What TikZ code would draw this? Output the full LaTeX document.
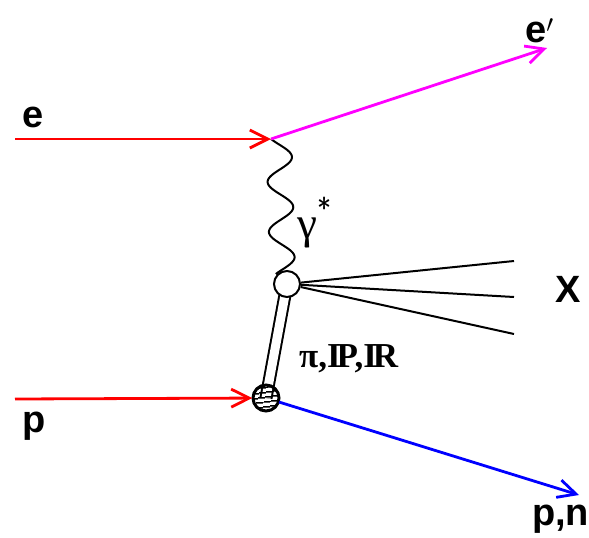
\documentclass[tikz,border=0pt]{standalone}
\usepackage{fontspec}
\setmainfont{Liberation Sans}
\newfontfamily\serifbf{Liberation Serif}[BoldFont={Liberation Serif Bold}]
\usetikzlibrary{arrows.meta,patterns.meta,backgrounds}
\definecolor{emag}{RGB}{255,0,255}
\definecolor{ered}{RGB}{255,0,0}
\definecolor{pblue}{RGB}{0,0,255}
\tikzset{
  lep/.style={line width=2.8pt,-{Straight Barb[length=18pt,width=18pt,line width=2.8pt]}},
  jet/.style={line width=2pt},
  photon/.style={line width=2pt,line join=round},
  lbl/.style={anchor=base west,inner sep=0pt,font=\fontsize{38}{40}\selectfont\bfseries},
}
\begin{document}
\begin{tikzpicture}[x=1pt,y=-1pt]
\useasboundingbox (0,0) rectangle (589,538);
\coordinate (ein) at (15,139);
\coordinate (ev) at (271,139);
\coordinate (eout) at (547,48);
\coordinate (pin) at (15,399);
\coordinate (pout) at (579,495);
\coordinate (x1) at (514,261);
\coordinate (x2) at (514,297);
\coordinate (x3) at (514,334);
\node[circle,draw,fill=white,minimum size=26pt,inner sep=0pt,line width=2pt] (hv) at (287,284) {};
\node[circle,draw,fill=white,minimum size=26pt,inner sep=0pt,line width=3pt,
  pattern={Lines[angle=8,distance=4pt,line width=1.4pt]}] (pv) at (266,398) {};
\begin{scope}[on background layer]
  \draw[line width=2pt,double=white,double distance=9pt] (hv.center) -- (pv.center);
  % photon gamma*: from the electron vertex (ev) down to the hadronic vertex (hv)
  \draw[photon,shift={(ev)}] plot[domain=0:135,samples=120,smooth]
    ({11.5+12.5*cos(7.2*(\x-18))-3.5*(1-\x/134)},{\x});
\end{scope}
\draw[lep,ered] (ein) -- (ev);
\draw[lep,emag] (ev) -- (eout);
\draw[lep,ered] (pin) -- (pv);
\draw[lep,pblue] (pv) -- (pout);
\draw[jet] (hv) -- (x1);
\draw[jet] (hv) -- (x2);
\draw[jet] (hv) -- (x3);
\node[lbl] (le) at (22,127) {e};
\node[lbl] (lp) at (22,432) {p};
\node[lbl] (leo) at (525,42) {e$^{\prime}$};
\node[lbl] (lpn) at (532,525) {p,n};
\node[lbl] (lx) at (555,302) {X};
\node[anchor=base west,inner sep=0pt,font=\fontsize{45}{47}\selectfont\serifbf] (lg) at (297,238) {γ\raisebox{0.42em}{\fontsize{30}{30}\selectfont\sffamily *}};
\node[anchor=base west,inner sep=0pt,font=\fontsize{35}{37}\selectfont\serifbf\bfseries] (lm) at (299,367) {π,I\kern-0.12em P,I\kern-0.12em R};
\end{tikzpicture}
\end{document}
